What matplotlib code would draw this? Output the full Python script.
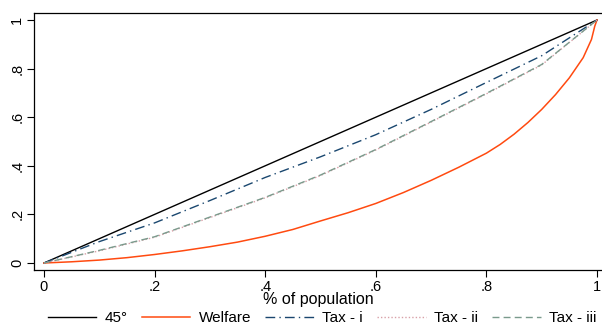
import matplotlib
matplotlib.use("Agg")
import matplotlib.pyplot as plt

plt.rcParams['font.family'] = ['Liberation Sans', 'DejaVu Sans']

# cumulative shares by population share
pop = [0, .1, .2, .3, .4, .5, .6, .7, .8, .9, 1]
tax_i = [0, .088, .165, .257, .352, .437, .528, .632, .743, .853, 1.0]
tax_ii = [0, .050, .106, .187, .268, .360, .465, .580, .696, .815, 1.0]
tax_iii = [0, .052, .108, .189, .270, .362, .467, .582, .698, .817, 1.0]

pop_w = [0, .05, .1, .15, .2, .25, .3, .35, .4, .45, .5, .55, .6, .65, .7,
         .75, .8, .825, .85, .875, .9, .925, .95, .975, .99, .996, 1]
welfare = [0, .005, .012, .022, .035, .05, .067, .086, .11, .138, .173, .207,
           .245, .290, .340, .394, .452, .488, .530, .578, .632, .693, .762,
           .845, .920, .975, 1.0]

fig = plt.figure(figsize=(6.02, 3.27), dpi=100)
ax = fig.add_axes([34/602, 57/327, 568/602, 257/327])

ax.plot(pop, pop, color='black', lw=1.0, label='45°')
ax.plot(pop_w, welfare, color='#ff4a10', lw=1.1, label='Welfare')
ax.plot(pop, tax_i, color='#1a476f', lw=1.0, dashes=(7, 3, 1, 3), label='Tax - i')
ax.plot(pop, tax_ii, color='#d8a0a8', lw=1.0, dashes=(1, 1.5), label='Tax - ii')
ax.plot(pop, tax_iii, color='#7a9a8c', lw=1.0, dashes=(5, 3), label='Tax - iii')

ax.set_xlim(-10/553, 1 + 5/553)
ax.set_ylim(-7/243, 1 + 7/243)
ticks = [0, .2, .4, .6, .8, 1]
labels = ['0', '.2', '.4', '.6', '.8', '1']
ax.set_xticks(ticks)
ax.set_xticklabels(labels)
ax.set_yticks(ticks)
ax.set_yticklabels(labels, rotation=90, va='center')
ax.tick_params(direction='out', length=5, width=0.8, labelsize=10.5, pad=2)
ax.spines['right'].set_visible(False)
for s in ['left', 'bottom', 'top']:
    ax.spines[s].set_linewidth(0.9)
ax.set_xlabel('% of population', fontsize=11.5, labelpad=-1)

fig.legend(loc='center', ncol=5, frameon=False, fontsize=11,
           handlelength=3.2, columnspacing=0.9, handletextpad=0.55,
           borderpad=0.1, bbox_to_anchor=(322/602, 1 - 318/327))

fig.savefig('out.png', dpi=100)
